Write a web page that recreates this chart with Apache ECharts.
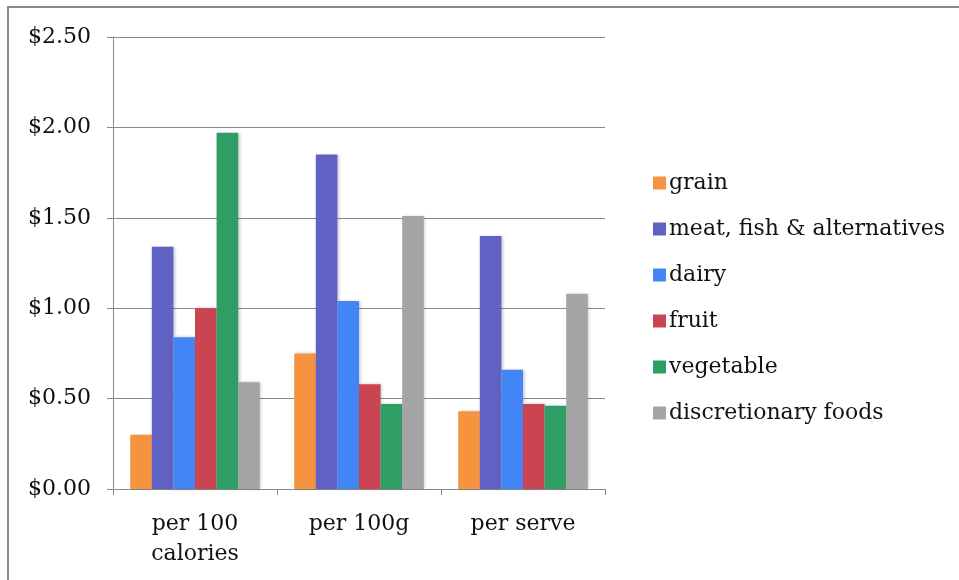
<!DOCTYPE html>
<html>
<head>
<meta charset="utf-8">
<script src="https://cdn.jsdelivr.net/npm/echarts@6/dist/echarts.min.js"></script>
<style>
html,body{margin:0;padding:0;background:#fff;}
#frame{position:absolute;left:7px;top:6px;width:1000px;height:700px;border:2px solid #8a8a8a;box-sizing:border-box;}
#chart{position:absolute;left:0;top:0;width:959px;height:580px;}
</style>
</head>
<body>
<div id="frame"></div>
<div id="chart"></div>
<script>
var categories = ['per 100\ncalories', 'per 100g', 'per serve'];
var seriesNames = ['grain', 'meat, fish & alternatives', 'dairy', 'fruit', 'vegetable', 'discretionary foods'];
var grain = [0.30, 0.75, 0.43];
var meat = [1.34, 1.85, 1.40];
var dairy = [0.84, 1.04, 0.66];
var fruit = [1.00, 0.58, 0.47];
var vegetable = [1.97, 0.47, 0.46];
var discretionary = [0.59, 1.51, 1.08];
var yTicks = [0, 0.5, 1.0, 1.5, 2.0, 2.5];
var yTickLabels = ['$0.00', '$0.50', '$1.00', '$1.50', '$2.00', '$2.50'];
var colors = ['#F5933F', '#5F62C3', '#4286F5', '#CB4452', '#2F9E64', '#A4A4A4'];

var values = [grain, meat, dairy, fruit, vegetable, discretionary];
var font = 'DejaVu Serif';
var fs = 22;
var chart = echarts.init(document.getElementById('chart'), null, {renderer: 'canvas'});
var series = seriesNames.map(function (n, i) {
  return {
    name: n,
    type: 'bar',
    data: values[i],
    barGap: '0%',
    barCategoryGap: '21%',
    itemStyle: {
      color: colors[i],
      shadowColor: 'rgba(0,0,0,0.22)',
      shadowBlur: 3,
      shadowOffsetX: 1.5,
      shadowOffsetY: 0
    },
    emphasis: {disabled: true}
  };
});
chart.setOption({
  animation: false,
  color: colors,
  grid: {left: 113, right: 354, top: 37, bottom: 91, containLabel: false},
  legend: {
    orient: 'vertical',
    left: 648,
    top: 167,
    itemWidth: 13,
    itemHeight: 13,
    itemGap: 24,
    icon: 'rect',
    data: seriesNames,
    textStyle: {fontFamily: font, fontSize: fs, color: '#111', lineHeight: 22, padding: [0, 0, 0, -2]},
    selectedMode: false
  },
  xAxis: {
    type: 'category',
    data: categories,
    axisLine: {lineStyle: {color: '#8a8a8a', width: 1}},
    axisTick: {show: true, length: 6, lineStyle: {color: '#8a8a8a'}},
    axisLabel: {fontFamily: font, fontSize: fs, color: '#111', margin: 20, lineHeight: 30}
  },
  yAxis: {
    type: 'value',
    min: 0,
    max: 2.5,
    interval: 0.5,
    axisLine: {show: true, lineStyle: {color: '#8a8a8a', width: 1}},
    axisTick: {show: true, length: 6, lineStyle: {color: '#8a8a8a'}},
    splitLine: {lineStyle: {color: '#8a8a8a', width: 1}},
    axisLabel: {
      fontFamily: font, fontSize: fs, color: '#111', margin: 22,
      formatter: function (v) {
        var idx = yTicks.findIndex(function (t) { return Math.abs(t - v) < 1e-9; });
        return idx >= 0 ? yTickLabels[idx] : '';
      }
    }
  },
  series: series
});
</script>
</body>
</html>
